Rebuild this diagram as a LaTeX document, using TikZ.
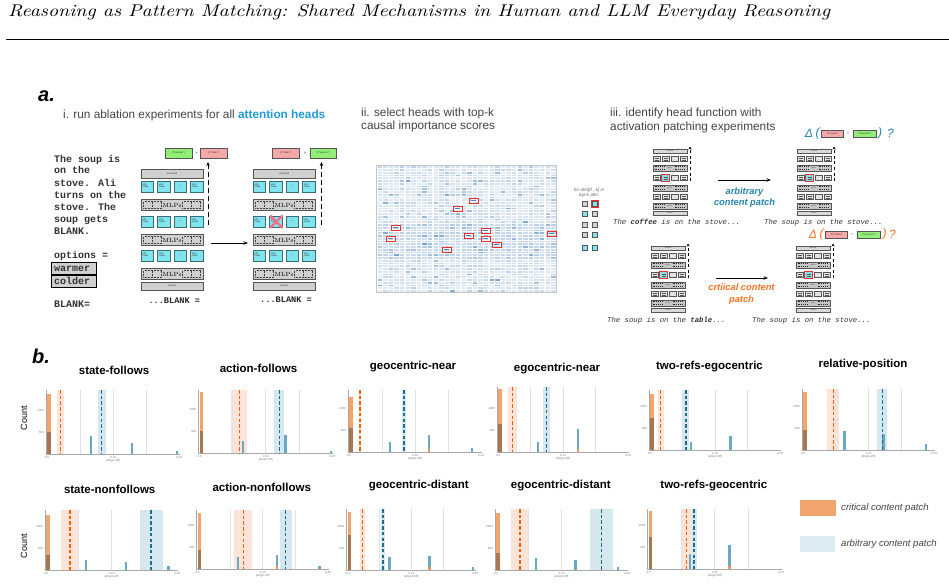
\documentclass[tikz,border=0pt]{standalone}
\usepackage{fontspec}
\usepackage{graphicx}
\usetikzlibrary{arrows.meta}
\newfontfamily\sff{Liberation Sans}
\newfontfamily\mono{Liberation Mono}
\definecolor{cyanH}{HTML}{7FE4EE}
\definecolor{headB}{HTML}{3A6C76}
\definecolor{grayF}{HTML}{D0D0D0}
\definecolor{grayD}{HTML}{555555}
\definecolor{greenP}{HTML}{92EE78}
\definecolor{redP}{HTML}{F5A8A8}
\definecolor{attnB}{HTML}{1E9BD7}
\definecolor{xpink}{HTML}{FF6B85}
\definecolor{hm}{HTML}{2A6EB4}
\definecolor{redbox}{HTML}{E8302A}
\definecolor{tealT}{HTML}{2584AC}
\definecolor{orangeT}{HTML}{EE7425}
\definecolor{obarc}{HTML}{F2A46B}
\definecolor{brnc}{HTML}{A87650}
\definecolor{obandc}{HTML}{FCE5D8}
\definecolor{bbandc}{HTML}{D6E8EF}
\definecolor{odash}{HTML}{E8620E}
\definecolor{bdash}{HTML}{1E6E8E}
\definecolor{bbarc}{HTML}{6AA9C4}
\definecolor{gridc}{HTML}{E2E2E2}
\definecolor{axc}{HTML}{A8A8A8}
\definecolor{txtg}{HTML}{444444}
\definecolor{legO}{HTML}{F0A46E}
\definecolor{legB}{HTML}{DCEBF1}
\newcount\nodecnt
\tikzset{
  an/.code={\global\advance\nodecnt by 1\relax\pgfkeysalso{name=an\the\nodecnt}},
  tinyt/.style={an,font=\sff\fontsize{2.4}{2.7}\selectfont,inner sep=0,text=black!80},
  tiny2/.style={an,font=\sff\fontsize{1.6}{1.8}\selectfont,inner sep=0,text=black!80},
  mlpt/.style={an,font=\fontsize{6}{6}\selectfont,inner sep=0},
  boxg/.style={fill=grayF,draw=grayD,line width=0.6},
  headc/.style={fill=cyanH,draw=headB,line width=0.6},
  mbox/.style={fill=gray!30,draw=grayD,line width=0.5},
  mmlp/.style={fill=gray!45,draw=grayD,line width=0.5},
  mhead/.style={fill=gray!22,draw=grayD,line width=0.45},
  mline/.style={line width=0.3,draw=grayD},
  mdots/.style={densely dotted,line width=0.9,draw=black!85},
  dasharr/.style={line width=1,dash pattern=on 5pt off 3pt,-{Stealth[length=4pt,width=3.5pt]}},
  dasharrS/.style={line width=0.9,dash pattern=on 3pt off 2.5pt,-{Stealth[length=3pt,width=3pt]}},
  solarr/.style={line width=0.9,-{Stealth[length=4.5pt,width=3.5pt]}},
  hdr/.style={font=\sff\fontsize{11.8}{13}\selectfont,text=txtg,inner sep=0,anchor=base west},
  monot/.style={font=\mono\bfseries\fontsize{10}{12}\selectfont,text=black!80,inner sep=0,anchor=base west},
  ctitle/.style={an,font=\sff\bfseries\fontsize{11.5}{13}\selectfont,inner sep=0},
  tick/.style={an,font=\sff\itshape\fontsize{3}{3}\selectfont,text=black!50,inner sep=0},
  gridl/.style={draw=gridc,line width=0.6},
  axl/.style={draw=axc,line width=0.8},
  odashl/.style={draw=odash,line width=1.1,dash pattern=on 3.5pt off 2.2pt},
  bdashl/.style={draw=bdash,line width=1.1,dash pattern=on 3.5pt off 2.2pt},
  dtxt/.style={an,font=\sff\itshape\fontsize{12}{12}\selectfont,inner sep=0},
}
% ---------- big transformer stack ----------
\newcommand\bigheads[2]{%
  \foreach \hx in {0,16.5,33,49.5}{\filldraw[headc] (\hx,#1) rectangle ++(12.5,11.5);}
  \foreach \hx in {0,16.5,49.5}{\node[tinyt,align=left,anchor=north west] at (\hx+1.5,#1+2.5) {attn\\head};}
  \node[an,font=\sff\fontsize{4}{4}\selectfont,inner sep=0,text=headB] at (39.25,#1+5.5) {...};
  \ifnum#2=1
    \draw[xpink,line width=2.2] (17,#1-0.5) -- (29.5,#1+12);
    \draw[xpink,line width=2.2] (29.5,#1-0.5) -- (17,#1+12);
  \fi}
\newcommand\bigmlp[1]{%
  \filldraw[boxg] (0,#1) rectangle (62,#1+11.5);
  \foreach \dx in {2.5,11.5,41.5,50.5}{\draw[densely dotted,line width=0.5,black!75] (\dx,#1+2.5) rectangle ++(8.5,6.5);}
  \node[mlpt] at (31,#1+6) {MLPs};}
\newcommand\bigstack[3]{%
  \begin{scope}[shift={(#1,#2)}]
  \filldraw[boxg] (0,0) rectangle (62,9); \node[tinyt] at (31,4.5) {unembed};
  \bigheads{12}{0}\bigmlp{30}\bigheads{47}{#3}\bigmlp{65}\bigheads{81}{0}\bigmlp{99}
  \filldraw[boxg] (0,113) rectangle (62,121); \node[tinyt] at (31,117) {embed};
  \end{scope}}
\newcommand\pbox[6]{%
  \filldraw[fill=#5,draw=grayD,line width=0.5] (#1,#2) rectangle (#3,#4);
  \node[tinyt] at ({(#1+#3)/2},{(#2+#4)/2}) {#6};}
% ---------- mini stack ----------
\newcommand\miniheads[2]{%
  \foreach \hx in {0,9,18,27}{\filldraw[mhead] (\hx,#1) rectangle ++(7,5.5);}
  \foreach \hx in {0,9,27}{\draw[mline] (\hx+1.5,#1+2) -- ++(4,0); \draw[mline] (\hx+1.5,#1+3.7) -- ++(4,0);}
  \ifnum#2=1
    \filldraw[fill=cyanH,draw=redbox,line width=0.9] (8.6,#1-0.6) rectangle ++(7.8,6.7);
    \draw[mline] (10.5,#1+2) -- ++(4,0); \draw[mline] (10.5,#1+3.7) -- ++(4,0);
  \fi}
\newcommand\minimlp[1]{%
  \filldraw[mmlp] (0,#1) rectangle (34,#1+6);
  \draw[mdots] (1.5,#1+1.8) -- (12.5,#1+1.8); \draw[mdots] (1.5,#1+4.2) -- (12.5,#1+4.2);
  \draw[mdots] (21.5,#1+1.8) -- (32.5,#1+1.8); \draw[mdots] (21.5,#1+4.2) -- (32.5,#1+4.2);
  \node[tiny2] at (17,#1+3) {MLPs};}
\newcommand\ministack[3]{%
  \begin{scope}[shift={(#1,#2)}]
  \filldraw[mbox] (0,0) rectangle (34,4); \node[tiny2] at (17,2) {unembed};
  \miniheads{7}{0}\minimlp{16}\miniheads{26}{1}\minimlp{36}\miniheads{45}{0}\minimlp{54}
  \filldraw[mbox] (0,62) rectangle (34,66.5); \node[tiny2] at (17,64.2) {embed};
  \coordinate (#3a) at (37,32); \coordinate (#3b) at (37,-2.5);
  \draw[dasharrS] (#3a) -- (#3b);
  \end{scope}}
% ---------- charts ----------
\newcommand\chartset[4]{\def\chX{#1}\def\chR{#2}\def\chT{#3}\def\chB{#4}}
\newcommand\chartbands[6]{%
  \fill[obandc] (#1,\chT) rectangle (#2,\chB);
  \fill[bbandc] (#4,\chT) rectangle (#5,\chB);
  \def\chOd{#3}\def\chBd{#6}}
\newcommand\chartframe{%
  \pgfmathsetmacro\chS{(\chR-\chX)/4}
  \foreach \k in {1,2,3}{\draw[gridl] ({\chX+\k*\chS},\chT) -- ({\chX+\k*\chS},\chB);}
  \draw[axl] (\chX-1,\chT) -- (\chX-1,\chB) -- (\chR+1,\chB);
  \node[tick,anchor=east] at (\chX-3,\chB-44) {1000};
  \node[tick,anchor=east] at (\chX-3,\chB-22) {500};
  \node[tick] at (\chX,\chB+3) {0.0};
  \node[tick] at ({(\chX+\chR)/2},\chB+3) {0.10};
  \node[tick] at (\chR,\chB+3) {0.20};
  \node[tick] at ({(\chX+\chR)/2},\chB+6.5) {|Δlogit diff|};}
\newcommand\cbar[2]{\fill[bbarc] (#1-1.2,#2) rectangle (#1+1.2,\chB);}
\newcommand\obump[1]{\fill[obarc!75!brown] (#1-1.2,\chB-3.5) rectangle (#1+1.2,\chB);}
\newcommand\chartend[2]{%
  \fill[obarc] (\chX,#1) rectangle (\chX+3.5,\chB);
  \fill[brnc] (\chX,#2) rectangle (\chX+3.5,\chB);
  \draw[odashl] (\chOd,\chT) -- (\chOd,\chB);
  \draw[bdashl] (\chBd,\chT) -- (\chBd,\chB);}

\begin{document}
\begin{tikzpicture}[x=1pt,y=-1pt]
\useasboundingbox (0,0) rectangle (949,588);
\fill[white] (0,0) rectangle (949,588);
% ---------- title ----------
\node[anchor=base west,inner sep=0] (title) at (8,17) {\resizebox{822pt}{12pt}{\itshape Reasoning as Pattern Matching: Shared Mechanisms in Human and LLM Everyday Reasoning}};
\draw[line width=0.9] (6,39.5) -- (949,39.5);

% ---------- panel a ----------
\node[anchor=west,inner sep=0,font=\sff\bfseries\itshape\fontsize{20}{20}\selectfont] (alabel) at (38,96.5) {a.};
\node[hdr] (h1) at (63,118.8) {i. run ablation experiments for all {\bfseries\color{attnB}attention heads}};
\node[hdr] (h2a) at (361,116.8) {ii. select heads with top-k};
\node[hdr] (h2b) at (361,129.8) {causal importance scores};
\node[hdr] (h3a) at (610,116.8) {iii. identify head function with};
\node[hdr] (h3b) at (610,130.8) {activation patching experiments};

% prompt text
\node[monot] (t1) at (54,162) {The soup is};
\node[monot] (t2) at (54,174) {on the};
\node[monot] (t3) at (54,186) {stove. Ali};
\node[monot] (t4) at (54,198) {turns on the};
\node[monot] (t5) at (54,210) {stove. The};
\node[monot] (t6) at (54,222) {soup gets};
\node[monot] (t7) at (54,234) {BLANK.};
\node[monot] (t8) at (54,258) {options =};
\filldraw[fill=grayF,draw=black,line width=0.9] (51,262.3) rectangle (96.7,274.5);
\node[monot] (t9) at (54,271.8) {warmer};
\filldraw[fill=grayF,draw=black,line width=0.9] (51,275.5) rectangle (96.7,287.5);
\node[monot] (t10) at (54,284.8) {colder};
\node[monot] (t11) at (54,307) {BLANK=};

% stacks
\bigstack{141}{169}{0}
\bigstack{253}{169}{1}
\pbox{165}{148}{192}{158}{greenP}{P("warmer")}
\node[tinyt,font=\sff\fontsize{4}{4}\selectfont] at (196.5,153) {>};
\pbox{200}{148}{227}{158}{redP}{P("colder")}
\pbox{272}{148}{299}{158}{redP}{P("colder")}
\node[tinyt,font=\sff\fontsize{4}{4}\selectfont] at (305,153) {>};
\pbox{310}{148}{336}{158}{greenP}{P("warmer")}
\coordinate (da1) at (208,225); \coordinate (da2) at (208,162);
\draw[dasharr] (da1) -- (da2);
\coordinate (db1) at (321.5,225); \coordinate (db2) at (321.5,162);
\draw[dasharr] (db1) -- (db2);
\coordinate (ba1) at (211,243); \coordinate (ba2) at (248,243);
\draw[solarr] (ba1) -- (ba2);
\node[anchor=base west,inner sep=0,font=\mono\bfseries\fontsize{8.6}{10}\selectfont,text=black!85] (bl1) at (148.3,303) {...BLANK =};
\node[anchor=base west,inner sep=0,font=\mono\bfseries\fontsize{8.6}{10}\selectfont,text=black!85] (bl2) at (260,302) {...BLANK =};

% ---------- heatmap ----------
\pgfmathsetseed{11}
\foreach \i in {0,...,31}{
  \foreach \j in {0,...,45}{
    \pgfmathsetmacro\hv{int(min(80,14+24*rnd*rnd+(rnd>0.93)*26+(abs(\j-27)<7)*9))}
    \fill[hm!\hv!white] (377.6+\i*5.6,166.3+\j*2.75) rectangle ++(4.4,1.7);
  }}
\draw[gray!45,line width=0.8] (376.5,165.5) rectangle (556.8,292.8);
\foreach \bx/\by in {469/198,453/206,391/225,386/236,481/228,464/233,481/236,492/242,442/247,547/231}{
  \fill[hm!85] (\bx+2.2,\by+1.7) rectangle ++(4.6,1.7);
  \draw[redbox,line width=0.9] (\bx,\by) rectangle ++(9,5);
}

% ---------- panel iii ----------
\node[an,font=\sff\itshape\fontsize{4.6}{5.5}\selectfont,text=black!60,align=center,inner sep=0] at (589,193) {for attn[0...k] in\\top-k attn:};
\foreach \sx/\sy/\sc in {582.3/201.7/0,592.3/201.7/1,582.3/211/1,592.3/211/0,582.3/222.7/0,592.3/222.7/0,582.3/232.7/0,592.3/232.7/1,582.3/245/1,592.3/245/1}{
  \ifnum\sc=1 \filldraw[fill=cyanH,draw=grayD,line width=0.5] (\sx,\sy) rectangle ++(5,5);
  \else \filldraw[fill=gray!35,draw=grayD,line width=0.5] (\sx,\sy) rectangle ++(5,5); \fi
}
\draw[redbox,line width=0.9] (591,200.4) rectangle (598.6,207.9);

\ministack{653}{149}{sa}
\ministack{797}{149}{sb}
\ministack{651}{246}{sc}
\ministack{796}{246}{sd}

\coordinate (pa1) at (718,180); \coordinate (pa2) at (771,180);
\draw[solarr] (pa1) -- (pa2);
\coordinate (pb1) at (716,278); \coordinate (pb2) at (768,278);
\draw[solarr] (pb1) -- (pb2);
\node[font=\sff\bfseries\itshape\fontsize{9.3}{11}\selectfont,text=tealT,align=center,inner sep=0] (arb) at (744.5,197.5) {arbitrary\\content patch};
\node[font=\sff\bfseries\itshape\fontsize{9.3}{12}\selectfont,text=orangeT,align=center,inner sep=0] (crit) at (741.5,294) {crtiical content\\patch};

\node[font=\mono\itshape\fontsize{7.3}{8}\selectfont,anchor=base west,inner sep=0,text=black!80] (c1) at (613,224.5) {The {\bfseries coffee} is on the stove...};
\node[font=\mono\itshape\fontsize{7.3}{8}\selectfont,anchor=base west,inner sep=0,text=black!80] (c2) at (764,224.5) {The soup is on the stove...};
\node[font=\mono\itshape\fontsize{7.3}{8}\selectfont,anchor=base west,inner sep=0,text=black!80] (c3) at (607,322.5) {The soup is on the {\bfseries table}...};
\node[font=\mono\itshape\fontsize{7.3}{8}\selectfont,anchor=base west,inner sep=0,text=black!80] (c4) at (752,322.5) {The soup is on the stove...};

% delta expressions
\node[dtxt,text=tealT] at (809,133.5) {Δ};
\node[dtxt,text=tealT] at (817.5,133.5) {(};
\pbox{821.7}{130.7}{843.3}{137.3}{redP}{P("colder")}
\node[dtxt,text=tealT,font=\sff\fontsize{8}{8}\selectfont] at (848,134) {-};
\pbox{853.3}{130.7}{876}{137.3}{greenP}{P("warmer")}
\node[dtxt,text=tealT] at (880,133.5) {)};
\node[dtxt,text=tealT] at (890.5,133.5) {?};
\node[dtxt,text=orangeT] at (813,234.5) {Δ};
\node[dtxt,text=orangeT] at (821.5,234.5) {(};
\pbox{825.7}{231}{847.3}{238}{redP}{P("colder")}
\node[dtxt,text=orangeT,font=\sff\fontsize{8}{8}\selectfont] at (852,235) {-};
\pbox{857.7}{231}{880}{238}{greenP}{P("warmer")}
\node[dtxt,text=orangeT] at (884.5,234.5) {)};
\node[dtxt,text=orangeT] at (892.5,234.5) {?};

% ---------- panel b ----------
\node[anchor=west,inner sep=0,font=\sff\bfseries\itshape\fontsize{20}{20}\selectfont] (blabel) at (32,356.5) {b.};
\node[an,rotate=90,font=\sff\fontsize{9}{9}\selectfont,inner sep=0] at (24,418) {Count};
\node[an,rotate=90,font=\sff\fontsize{9}{9}\selectfont,inner sep=0] at (24,546) {Count};

\node[ctitle] at (114,370) {state-follows};
\node[ctitle] at (258.5,368.5) {action-follows};
\node[ctitle] at (413,367) {geocentric-near};
\node[ctitle] at (557,368.5) {egocentric-near};
\node[ctitle] at (709.5,367) {two-refs-egocentric};
\node[ctitle] at (863,365) {relative-position};
\node[ctitle] at (109.7,489) {state-nonfollows};
\node[ctitle] at (261.7,487.5) {action-nonfollows};
\node[ctitle] at (418.8,486) {geocentric-distant};
\node[ctitle] at (560.8,486) {egocentric-distant};
\node[ctitle] at (713.8,486) {two-refs-geocentric};

% 1 state-follows
\chartset{47}{179}{390}{454}
\chartbands{57}{64}{60.7}{98}{106}{101.3}
\chartframe
\cbar{91}{436}\cbar{131.7}{443.3}\cbar{176.7}{450.7}
\chartend{394}{432}
% 2 action-follows
\chartset{199.5}{332}{390}{453}
\chartbands{231}{246.7}{239.3}{274.3}{284}{279.3}
\chartframe
\cbar{243}{440.7}\cbar{285.5}{435}\cbar{331}{451}
\chartend{391.7}{430.7}
% 3 geocentric-near
\chartset{349}{481}{390}{452}
\chartbands{358.8}{361.2}{360}{401.7}{406}{404}
\chartframe
\cbar{390}{442.3}\cbar{429}{435}\obump{429}\cbar{471.7}{448.3}
\chartend{396.7}{428.3}
% 4 egocentric-near
\chartset{498}{628}{387}{452}
\chartbands{508.3}{516.7}{512.7}{543.3}{550}{546.3}
\chartframe
\cbar{538}{442.3}\cbar{578}{429.3}\obump{578}
\chartend{389.3}{424}
% 5 two-refs-egocentric
\chartset{650}{780}{390}{450}
\chartbands{658.3}{663.7}{660.7}{683.3}{689.3}{686}
\chartframe
\cbar{691}{441.7}\cbar{730.5}{435.7}
\chartend{394}{418.3}
% 6 relative-position
\chartset{803}{934}{389}{450}
\chartbands{826.7}{839}{833.3}{876.7}{887.3}{882.3}
\chartframe
\cbar{844.3}{430.7}\cbar{883.3}{434.3}\cbar{925.7}{444}
\chartend{391.7}{430}
% 7 state-nonfollows
\chartset{46}{177}{510}{570}
\chartbands{61}{78.7}{70}{140}{162.7}{151}
\chartframe
\cbar{86}{560}\cbar{126}{561.7}\cbar{168.3}{566}
\chartend{515}{555}
% 8 action-nonfollows
\chartset{197.5}{328}{510}{569}
\chartbands{234.3}{251.7}{243.3}{280}{291.7}{285.7}
\chartframe
\cbar{237.8}{557.3}\cbar{277}{555}\obump{277}\cbar{319.5}{565.7}
\chartend{513.3}{550}
% 9 geocentric-distant
\chartset{347.5}{475}{509}{570}
\chartbands{360}{365}{362.3}{380.7}{385}{383}
\chartframe
\cbar{389.5}{556.7}\cbar{429.5}{555.7}\obump{429.5}\cbar{472.8}{567.3}
\chartend{511.7}{535}
% 10 egocentric-distant
\chartset{496}{627}{509}{570}
\chartbands{511}{528.7}{520}{590}{612.7}{601.7}
\chartframe
\cbar{535.8}{558.3}\cbar{575.5}{560}\cbar{617.8}{567.3}
\chartend{512.7}{553.3}
% 11 two-refs-geocentric
\chartset{648.5}{781}{509}{569}
\chartbands{680.7}{696.7}{686.7}{691.7}{696.7}{694}
\chartframe
\cbar{689.7}{554}\cbar{729.5}{545}\obump{729.5}
\chartend{510.7}{536.7}

% legend
\fill[legO] (800,500) rectangle (836,515.7);
\node[anchor=west,inner sep=0,font=\sff\itshape\fontsize{9.6}{11}\selectfont,text=txtg] (lg1) at (841,507.8) {critical content patch};
\fill[legB] (800,536) rectangle (835,551.7);
\node[anchor=west,inner sep=0,font=\sff\itshape\fontsize{9.6}{11}\selectfont,text=txtg] (lg2) at (841,543.8) {arbitrary content patch};
\end{tikzpicture}
\end{document}
